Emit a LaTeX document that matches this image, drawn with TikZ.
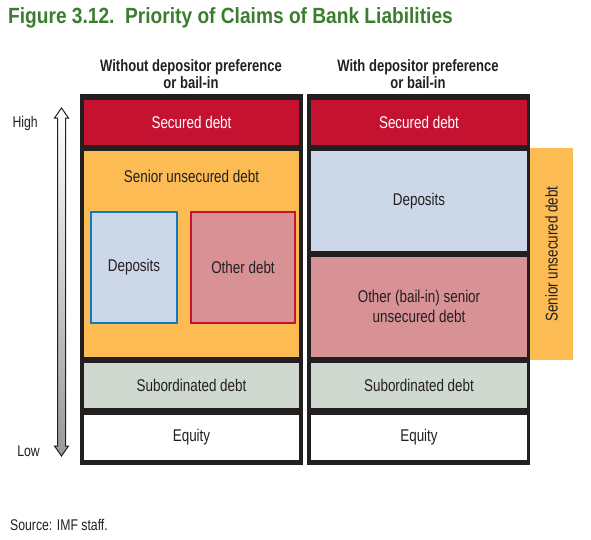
\documentclass[tikz,border=0pt]{standalone}
\usepackage{fontspec}
\setmainfont{Liberation Sans}[FakeStretch=0.79]
\newfontfamily\titlefont{Liberation Sans}[FakeStretch=0.87]
\definecolor{ink}{HTML}{231F20}
\definecolor{secred}{HTML}{C41230}
\definecolor{senorange}{HTML}{FDBB54}
\definecolor{depblue}{HTML}{CCD8E8}
\definecolor{depline}{HTML}{0A7CC1}
\definecolor{othpink}{HTML}{D89296}
\definecolor{subgreen}{HTML}{CFD9D0}
\definecolor{figgreen}{HTML}{3B7D2F}
\tikzset{
  block/.style={inner sep=0pt, text=ink, align=center, font=\fontsize{17}{20}\selectfont},
  header/.style={inner sep=0pt, text=ink, align=center, font=\fontsize{16.5}{17}\selectfont\bfseries},
  side/.style={inner sep=0pt, text=ink, font=\fontsize{15.5}{18}\selectfont}
}
\begin{document}
\begin{tikzpicture}[x=1pt,y=-1pt]
    \useasboundingbox (0,0) rectangle (591,539);

    \node[anchor=west, inner sep=0pt, text=figgreen, font=\fontsize{22}{24}\selectfont\titlefont\bfseries] (title) at (8,18) {Figure 3.12.\ \ Priority of Claims of Bank Liabilities};

    \node[header] (lhead) at (191,74.5) {Without depositor preference\\or bail-in};
    \node[header] (rhead) at (418,74.5) {With depositor preference\\or bail-in};

    % left column
    \fill[ink] (80,94) rectangle (303,465);
    \node[block, fill=secred, text=white, minimum width=215, minimum height=45] (lsec) at (191.5,122.5) {Secured debt};
    \node[block, fill=senorange, minimum width=215, minimum height=206] (lsen) at (191.5,254) {};
    \node[block] (lsentxt) at (191.5,176) {Senior unsecured debt};
    \node[block, fill=depblue, draw=depline, line width=2pt, minimum width=86, minimum height=111] (ldep) at (134,267.5) {Deposits};
    \node[block, fill=othpink, draw=secred, line width=2pt, minimum width=104, minimum height=111] (loth) at (243,267.5) {Other debt};
    \node[block, fill=subgreen, minimum width=215, minimum height=45] (lsub) at (191.5,385.5) {Subordinated debt};
    \node[block, fill=white, minimum width=215, minimum height=45] (leq) at (191.5,437.5) {Equity};

    % right column
    \fill[ink] (307,94) rectangle (530,465);
    \node[block, fill=secred, text=white, minimum width=216, minimum height=45] (rsec) at (419,122.5) {Secured debt};
    \node[block, fill=depblue, minimum width=216, minimum height=100] (rdep) at (419,201) {Deposits};
    \node[block, fill=othpink, minimum width=216, minimum height=100] (roth) at (419,307) {};
    \node[block] (rothtxt) at (419,306) {Other (bail-in) senior\\unsecured debt};
    \node[block, fill=subgreen, minimum width=216, minimum height=45] (rsub) at (419,385.5) {Subordinated debt};
    \node[block, fill=white, minimum width=216, minimum height=45] (req) at (419,437.5) {Equity};

    \node[block, fill=senorange, minimum width=43, minimum height=212] (rsen) at (551.5,254) {};
    \node[block, rotate=90] (rsentxt) at (rsen.center) {Senior unsecured debt};

    % priority arrow
    \shade[top color=white, bottom color=black!40, draw=ink, line width=1pt]
      (61.5,108) -- (68.5,118) -- (65.5,118) -- (65.5,446) -- (68.5,446) -- (61.5,456)
      -- (54.5,446) -- (57.5,446) -- (57.5,118) -- (54.5,118) -- cycle;
    \node[side, anchor=east] (high) at (38,123) {High};
    \node[side, anchor=east] (low) at (40,451) {Low};

    \node[side, anchor=west] (src) at (10,525) {Source: IMF staff.};
\end{tikzpicture}
\end{document}
